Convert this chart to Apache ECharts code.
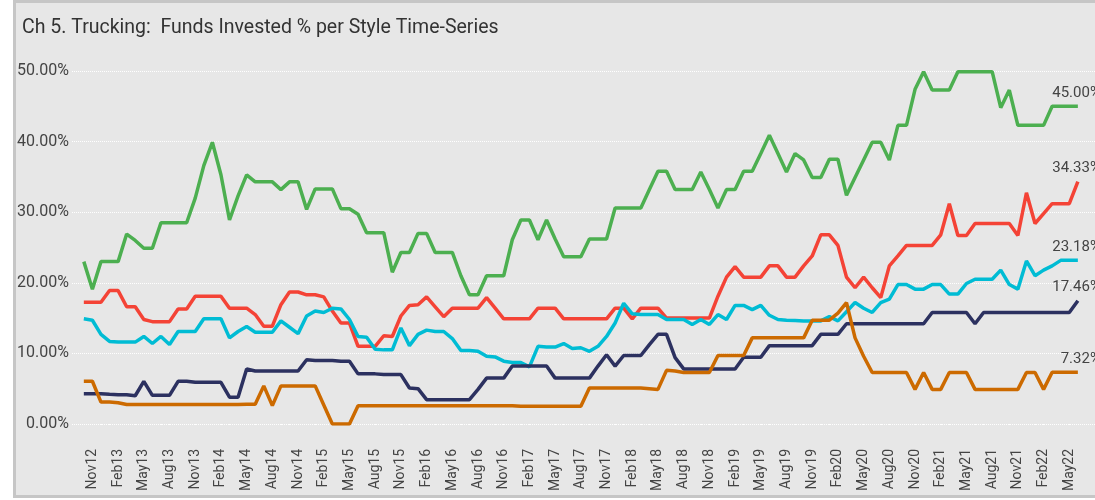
<!DOCTYPE html>
<html>
<head>
<meta charset="utf-8">
<script src="https://cdn.jsdelivr.net/npm/echarts@6/dist/echarts.min.js"></script>
<style>
  html, body { margin: 0; padding: 0; background: #fff; }
  #main { width: 1095px; height: 500px; }
</style>
</head>
<body>
<div id="main"></div>
<script>
  // monthly points, Oct12 .. Jun22 (index 0 .. 116)
  const monthLabels = ['Nov12','Feb13','May13','Aug13','Nov13','Feb14','May14','Aug14','Nov14','Feb15','May15','Aug15',
    'Nov15','Feb16','May16','Aug16','Nov16','Feb17','May17','Aug17','Nov17','Feb18','May18','Aug18','Nov18','Feb19',
    'May19','Aug19','Nov19','Feb20','May20','Aug20','Nov20','Feb21','May21','Aug21','Nov21','Feb22','May22']
  const yTicks = [0, 10, 20, 30, 40, 50]

  const greenData = [23.0,19.1,23.0,23.0,23.0,26.9,26.0,24.9,24.9,28.5,28.5,28.5,28.5,32.0,36.6,39.9,35.3,28.9,32.3,35.3,
    34.3,34.3,34.3,33.2,34.3,34.3,30.4,33.3,33.3,33.3,30.5,30.5,29.7,27.1,27.1,27.1,21.5,24.3,24.3,27.0,
    27.0,24.3,24.3,24.3,21.0,18.3,18.3,21.0,21.0,21.0,26.1,28.9,28.9,26.1,28.9,26.2,23.7,23.7,23.7,26.2,
    26.2,26.2,30.6,30.6,30.6,30.6,33.2,35.8,35.8,33.2,33.2,33.2,35.7,33.2,30.6,33.2,33.2,35.8,35.8,38.3,
    40.9,38.3,35.7,38.3,37.4,34.9,34.9,37.5,37.5,32.4,34.9,37.4,39.9,39.9,37.4,42.3,42.3,47.4,49.9,47.3,
    47.3,47.3,49.9,49.9,49.9,49.9,49.9,44.8,47.3,42.3,42.3,42.3,42.3,45.0,45.0,45.0,45.0]
  const redData = [17.25,17.25,17.25,18.9,18.9,16.6,16.6,14.8,14.5,14.5,14.5,16.3,16.3,18.1,18.1,18.1,18.1,16.4,16.4,16.4,
    15.5,13.85,13.85,16.9,18.7,18.7,18.3,18.3,18.0,16.0,14.3,14.3,11.0,11.0,11.0,12.5,12.4,15.3,16.8,16.9,
    18.0,16.6,15.2,16.4,16.4,16.4,16.4,17.9,16.4,14.9,14.9,14.9,14.9,16.4,16.4,16.4,14.9,14.9,14.9,14.9,
    14.9,14.9,16.4,16.4,14.9,16.4,16.4,16.4,15.0,15.0,15.0,15.0,15.0,15.0,18.1,20.8,22.3,20.8,20.8,20.8,
    22.4,22.4,20.8,20.8,22.4,23.8,26.8,26.8,25.3,20.8,19.3,20.8,19.3,17.9,22.4,23.8,25.3,25.3,25.3,25.3,
    26.8,31.2,26.7,26.7,28.4,28.4,28.4,28.4,28.4,26.7,32.75,28.4,29.8,31.2,31.2,31.2,34.33]
  const cyanData = [14.9,14.7,12.7,11.7,11.6,11.6,11.6,12.4,11.4,12.4,11.25,13.1,13.1,13.1,14.9,14.9,14.9,12.2,13.1,13.8,
    13.0,13.0,13.0,14.6,13.7,12.8,15.3,16.0,15.8,16.4,16.3,14.8,12.4,12.3,10.6,10.5,10.5,13.6,11.1,12.7,
    13.3,13.1,13.1,12.1,10.4,10.4,10.3,9.6,9.5,8.9,8.7,8.7,8.1,11.0,10.9,10.9,11.4,10.7,10.8,10.3,
    11.0,12.4,14.3,17.1,15.6,15.5,15.5,15.5,14.8,14.8,14.8,14.1,14.8,14.1,15.5,14.8,16.8,16.8,16.2,16.8,
    15.4,14.8,14.7,14.65,14.6,14.6,14.6,15.2,14.6,15.9,17.2,16.4,15.8,17.2,17.7,19.75,19.75,19.1,19.1,19.75,
    19.75,18.4,18.4,19.9,20.5,20.5,20.5,21.8,19.75,19.1,23.1,21.0,21.8,22.4,23.18,23.18,23.18]
  const navyData = [4.3,4.3,4.3,4.2,4.15,4.15,4.0,6.05,4.06,4.06,4.06,6.05,6.05,5.9,5.9,5.9,5.9,3.8,3.8,7.8,
    7.5,7.5,7.5,7.5,7.5,7.5,9.1,9.0,9.0,9.0,8.9,8.9,7.1,7.1,7.1,7.0,7.0,7.0,5.1,5.0,
    3.45,3.45,3.45,3.45,3.45,3.45,4.9,6.5,6.5,6.5,8.2,8.2,8.2,8.2,8.2,6.5,6.5,6.5,6.5,6.5,
    8.2,9.8,8.2,9.7,9.7,9.7,11.25,12.7,12.7,9.4,7.8,7.8,7.8,7.8,7.8,7.8,7.8,9.45,9.45,9.45,
    11.1,11.1,11.1,11.1,11.1,11.1,12.7,12.7,12.7,14.2,14.2,14.2,14.2,14.2,14.2,14.2,14.2,14.2,14.2,15.8,
    15.8,15.8,15.8,15.8,14.2,15.8,15.8,15.8,15.8,15.8,15.8,15.8,15.8,15.8,15.8,15.8,17.46]
  const orangeData = [6.05,6.05,3.1,3.1,3.0,2.75,2.75,2.75,2.75,2.75,2.75,2.75,2.75,2.75,2.75,2.75,2.75,2.75,2.75,2.8,
    2.8,5.4,2.6,5.4,5.4,5.4,5.4,5.4,2.7,0,0,0,2.6,2.6,2.6,2.6,2.6,2.6,2.6,2.6,
    2.6,2.6,2.6,2.6,2.6,2.6,2.6,2.6,2.6,2.6,2.6,2.5,2.5,2.5,2.5,2.5,2.5,2.5,2.5,5.1,
    5.1,5.1,5.1,5.1,5.1,5.1,5.0,4.9,7.6,7.5,7.3,7.3,7.3,7.3,9.7,9.7,9.7,9.7,12.2,12.2,
    12.2,12.2,12.2,12.2,12.2,14.7,14.7,14.7,15.7,17.2,12.2,9.6,7.3,7.3,7.3,7.3,7.3,4.9,7.3,4.9,
    4.9,7.3,7.3,7.3,4.9,4.9,4.9,4.9,4.9,4.9,7.3,7.3,4.9,7.32,7.32,7.32,7.32]

  const labelIdx = monthLabels.map((m, i) => 1 + i * 3)
  const tickIdx = []
  for (let i = 0; i <= 117; i++) tickIdx.push(i)

  function makeSeries(name, values, color) {
    const last = values.length - 1
    return {
      name: name,
      type: 'line',
      showSymbol: true,
      symbol: 'circle',
      symbolSize: 0,
      silent: true,
      lineStyle: { width: 3.5, color: color },
      itemStyle: { color: color },
      data: values.map((v, i) => {
        if (i !== last) return [i, v]
        return {
          value: [i, v],
          label: {
            show: true,
            position: 'top',
            align: 'right',
            offset: [23, -1],
            fontSize: 15,
            fontFamily: 'Roboto',
            color: '#444',
            formatter: p => p.value[1].toFixed(2) + '%'
          }
        }
      })
    }
  }

  const chart = echarts.init(document.getElementById('main'))
  chart.setOption({
    backgroundColor: '#fff',
    animation: false,
    graphic: [{
      type: 'rect',
      z: -10,
      shape: { x: 14.5, y: 1.5, width: 1100, height: 495 },
      style: { fill: '#e7e7e7', stroke: '#c6c6c6', lineWidth: 3 }
    }],
    title: {
      text: 'Ch 5. Trucking:  Funds Invested % per Style Time-Series',
      left: 22,
      top: 18,
      padding: 0,
      textStyle: { fontSize: 19.5, fontWeight: 'normal', color: '#333', fontFamily: 'Roboto' }
    },
    grid: { left: 72, top: 71, width: 1040, height: 353 },
    xAxis: {
      type: 'value',
      min: -1.38,
      max: 118,
      offset: 19,
      axisLine: { show: false },
      splitLine: { show: false },
      axisTick: { show: true, customValues: tickIdx, length: 1, lineStyle: { color: '#fff', width: 1 } },
      axisLabel: {
        customValues: labelIdx,
        formatter: v => monthLabels[Math.round((v - 1) / 3)],
        rotate: 90,
        margin: 6,
        fontSize: 14,
        fontFamily: 'Roboto',
        color: '#444'
      }
    },
    yAxis: {
      type: 'value',
      min: 0,
      max: 50,
      interval: 10,
      axisLine: { show: false },
      axisTick: { show: false },
      splitLine: { lineStyle: { color: '#fff', type: 'dotted', width: 1 } },
      axisLabel: {
        customValues: yTicks,
        formatter: v => v.toFixed(2) + '%',
        margin: 3,
        fontSize: 16,
        fontFamily: 'Roboto',
        color: '#444'
      }
    },
    series: [
      makeSeries('Green', greenData, '#4caf50'),
      makeSeries('Red', redData, '#f44336'),
      makeSeries('Cyan', cyanData, '#00bcd4'),
      makeSeries('Navy', navyData, '#2c3160'),
      makeSeries('Orange', orangeData, '#cc6a00')
    ]
  })
</script>
</body>
</html>
